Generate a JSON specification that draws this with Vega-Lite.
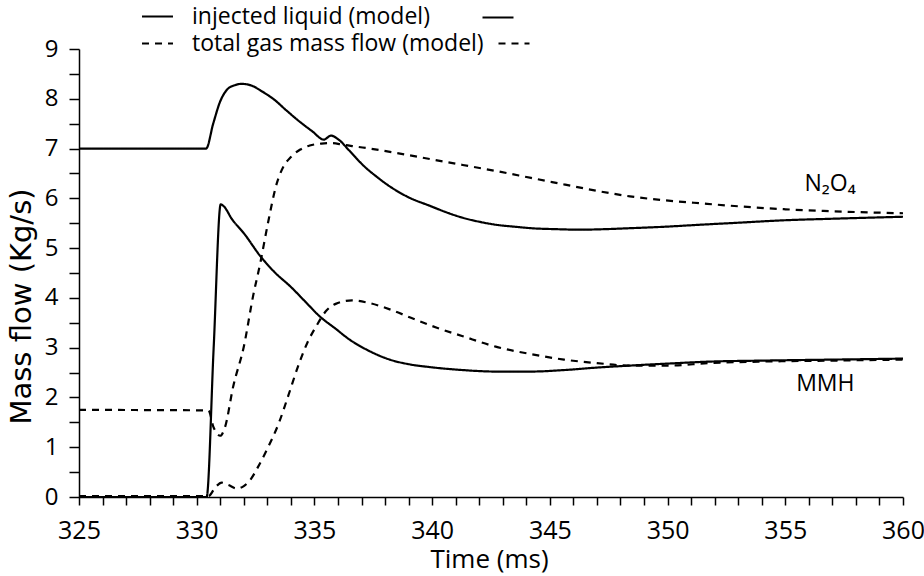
{
  "$schema": "https://vega.github.io/schema/vega-lite/v6.json",
  "width": 824,
  "height": 448,
  "autosize": "none",
  "padding": {"left": 79, "top": 49, "right": 21, "bottom": 79},
  "background": "white",
  "config": {
    "view": {"stroke": null},
    "font": "Open Sans",
    "axis": {
      "domainColor": "black", "domainWidth": 1.5, "ticks": true, "tickColor": "black", "tickWidth": 1.5,
      "tickOpacity": 1, "labelColor": "black", "titleColor": "black", "grid": false, "labelOverlap": false,
      "labelFont": "Open Sans", "titleFont": "Open Sans", "titleFontWeight": "normal"
    },
    "legend": {
      "labelFont": "Open Sans", "labelFontSize": 23, "labelColor": "black", "labelLimit": 0
    }
  },
  "datasets": {
    "curves": [
      {"t": 325, "v": 7.0, "s": "N2O4 liquid", "k": "injected liquid (model)"},
      {"t": 330.4, "v": 7.0, "s": "N2O4 liquid", "k": "injected liquid (model)"},
      {"t": 330.7, "v": 7.5, "s": "N2O4 liquid", "k": "injected liquid (model)"},
      {"t": 331.0, "v": 7.95, "s": "N2O4 liquid", "k": "injected liquid (model)"},
      {"t": 331.3, "v": 8.19, "s": "N2O4 liquid", "k": "injected liquid (model)"},
      {"t": 331.6, "v": 8.27, "s": "N2O4 liquid", "k": "injected liquid (model)"},
      {"t": 331.9, "v": 8.3, "s": "N2O4 liquid", "k": "injected liquid (model)"},
      {"t": 332.3, "v": 8.27, "s": "N2O4 liquid", "k": "injected liquid (model)"},
      {"t": 332.8, "v": 8.14, "s": "N2O4 liquid", "k": "injected liquid (model)"},
      {"t": 333.3, "v": 7.98, "s": "N2O4 liquid", "k": "injected liquid (model)"},
      {"t": 333.8, "v": 7.77, "s": "N2O4 liquid", "k": "injected liquid (model)"},
      {"t": 334.4, "v": 7.53, "s": "N2O4 liquid", "k": "injected liquid (model)"},
      {"t": 334.9, "v": 7.35, "s": "N2O4 liquid", "k": "injected liquid (model)"},
      {"t": 335.4, "v": 7.18, "s": "N2O4 liquid", "k": "injected liquid (model)"},
      {"t": 335.7, "v": 7.26, "s": "N2O4 liquid", "k": "injected liquid (model)"},
      {"t": 336.0, "v": 7.19, "s": "N2O4 liquid", "k": "injected liquid (model)"},
      {"t": 336.5, "v": 6.95, "s": "N2O4 liquid", "k": "injected liquid (model)"},
      {"t": 337.1, "v": 6.65, "s": "N2O4 liquid", "k": "injected liquid (model)"},
      {"t": 337.6, "v": 6.45, "s": "N2O4 liquid", "k": "injected liquid (model)"},
      {"t": 338.2, "v": 6.24, "s": "N2O4 liquid", "k": "injected liquid (model)"},
      {"t": 339.0, "v": 6.02, "s": "N2O4 liquid", "k": "injected liquid (model)"},
      {"t": 339.9, "v": 5.85, "s": "N2O4 liquid", "k": "injected liquid (model)"},
      {"t": 340.6, "v": 5.72, "s": "N2O4 liquid", "k": "injected liquid (model)"},
      {"t": 341.3, "v": 5.61, "s": "N2O4 liquid", "k": "injected liquid (model)"},
      {"t": 342.0, "v": 5.53, "s": "N2O4 liquid", "k": "injected liquid (model)"},
      {"t": 342.7, "v": 5.47, "s": "N2O4 liquid", "k": "injected liquid (model)"},
      {"t": 343.5, "v": 5.43, "s": "N2O4 liquid", "k": "injected liquid (model)"},
      {"t": 344.2, "v": 5.4, "s": "N2O4 liquid", "k": "injected liquid (model)"},
      {"t": 345.3, "v": 5.38, "s": "N2O4 liquid", "k": "injected liquid (model)"},
      {"t": 346.3, "v": 5.37, "s": "N2O4 liquid", "k": "injected liquid (model)"},
      {"t": 347.3, "v": 5.38, "s": "N2O4 liquid", "k": "injected liquid (model)"},
      {"t": 348.4, "v": 5.4, "s": "N2O4 liquid", "k": "injected liquid (model)"},
      {"t": 349.9, "v": 5.43, "s": "N2O4 liquid", "k": "injected liquid (model)"},
      {"t": 351.4, "v": 5.47, "s": "N2O4 liquid", "k": "injected liquid (model)"},
      {"t": 353.0, "v": 5.51, "s": "N2O4 liquid", "k": "injected liquid (model)"},
      {"t": 355.0, "v": 5.56, "s": "N2O4 liquid", "k": "injected liquid (model)"},
      {"t": 357.0, "v": 5.59, "s": "N2O4 liquid", "k": "injected liquid (model)"},
      {"t": 360.0, "v": 5.63, "s": "N2O4 liquid", "k": "injected liquid (model)"},

      {"t": 325, "v": 1.75, "s": "N2O4 gas", "k": "total gas mass flow (model)"},
      {"t": 330.5, "v": 1.74, "s": "N2O4 gas", "k": "total gas mass flow (model)"},
      {"t": 330.7, "v": 1.42, "s": "N2O4 gas", "k": "total gas mass flow (model)"},
      {"t": 331.0, "v": 1.23, "s": "N2O4 gas", "k": "total gas mass flow (model)"},
      {"t": 331.2, "v": 1.4, "s": "N2O4 gas", "k": "total gas mass flow (model)"},
      {"t": 331.55, "v": 2.22, "s": "N2O4 gas", "k": "total gas mass flow (model)"},
      {"t": 332.0, "v": 3.02, "s": "N2O4 gas", "k": "total gas mass flow (model)"},
      {"t": 332.4, "v": 4.05, "s": "N2O4 gas", "k": "total gas mass flow (model)"},
      {"t": 332.7, "v": 4.7, "s": "N2O4 gas", "k": "total gas mass flow (model)"},
      {"t": 333.0, "v": 5.44, "s": "N2O4 gas", "k": "total gas mass flow (model)"},
      {"t": 333.4, "v": 6.3, "s": "N2O4 gas", "k": "total gas mass flow (model)"},
      {"t": 333.7, "v": 6.65, "s": "N2O4 gas", "k": "total gas mass flow (model)"},
      {"t": 334.0, "v": 6.83, "s": "N2O4 gas", "k": "total gas mass flow (model)"},
      {"t": 334.4, "v": 6.98, "s": "N2O4 gas", "k": "total gas mass flow (model)"},
      {"t": 334.8, "v": 7.06, "s": "N2O4 gas", "k": "total gas mass flow (model)"},
      {"t": 335.3, "v": 7.1, "s": "N2O4 gas", "k": "total gas mass flow (model)"},
      {"t": 335.7, "v": 7.11, "s": "N2O4 gas", "k": "total gas mass flow (model)"},
      {"t": 336.2, "v": 7.08, "s": "N2O4 gas", "k": "total gas mass flow (model)"},
      {"t": 336.6, "v": 7.05, "s": "N2O4 gas", "k": "total gas mass flow (model)"},
      {"t": 337.5, "v": 6.99, "s": "N2O4 gas", "k": "total gas mass flow (model)"},
      {"t": 338.5, "v": 6.91, "s": "N2O4 gas", "k": "total gas mass flow (model)"},
      {"t": 339.9, "v": 6.79, "s": "N2O4 gas", "k": "total gas mass flow (model)"},
      {"t": 341.3, "v": 6.67, "s": "N2O4 gas", "k": "total gas mass flow (model)"},
      {"t": 342.7, "v": 6.55, "s": "N2O4 gas", "k": "total gas mass flow (model)"},
      {"t": 344.2, "v": 6.41, "s": "N2O4 gas", "k": "total gas mass flow (model)"},
      {"t": 345.6, "v": 6.28, "s": "N2O4 gas", "k": "total gas mass flow (model)"},
      {"t": 347.0, "v": 6.15, "s": "N2O4 gas", "k": "total gas mass flow (model)"},
      {"t": 348.4, "v": 6.04, "s": "N2O4 gas", "k": "total gas mass flow (model)"},
      {"t": 349.9, "v": 5.96, "s": "N2O4 gas", "k": "total gas mass flow (model)"},
      {"t": 351.4, "v": 5.9, "s": "N2O4 gas", "k": "total gas mass flow (model)"},
      {"t": 353.0, "v": 5.84, "s": "N2O4 gas", "k": "total gas mass flow (model)"},
      {"t": 355.0, "v": 5.78, "s": "N2O4 gas", "k": "total gas mass flow (model)"},
      {"t": 357.0, "v": 5.74, "s": "N2O4 gas", "k": "total gas mass flow (model)"},
      {"t": 360.0, "v": 5.7, "s": "N2O4 gas", "k": "total gas mass flow (model)"},

      {"t": 325, "v": 0.0, "s": "MMH liquid", "k": "injected liquid (model)"},
      {"t": 330.42, "v": 0.0, "s": "MMH liquid", "k": "injected liquid (model)"},
      {"t": 330.72, "v": 3.0, "s": "MMH liquid", "k": "injected liquid (model)"},
      {"t": 331.02, "v": 5.88, "s": "MMH liquid", "k": "injected liquid (model)"},
      {"t": 331.15, "v": 5.84, "s": "MMH liquid", "k": "injected liquid (model)"},
      {"t": 331.5, "v": 5.58, "s": "MMH liquid", "k": "injected liquid (model)"},
      {"t": 332.0, "v": 5.3, "s": "MMH liquid", "k": "injected liquid (model)"},
      {"t": 332.7, "v": 4.84, "s": "MMH liquid", "k": "injected liquid (model)"},
      {"t": 333.3, "v": 4.52, "s": "MMH liquid", "k": "injected liquid (model)"},
      {"t": 334.0, "v": 4.22, "s": "MMH liquid", "k": "injected liquid (model)"},
      {"t": 334.6, "v": 3.93, "s": "MMH liquid", "k": "injected liquid (model)"},
      {"t": 335.2, "v": 3.64, "s": "MMH liquid", "k": "injected liquid (model)"},
      {"t": 335.9, "v": 3.38, "s": "MMH liquid", "k": "injected liquid (model)"},
      {"t": 336.5, "v": 3.16, "s": "MMH liquid", "k": "injected liquid (model)"},
      {"t": 337.3, "v": 2.94, "s": "MMH liquid", "k": "injected liquid (model)"},
      {"t": 338.2, "v": 2.76, "s": "MMH liquid", "k": "injected liquid (model)"},
      {"t": 339.1, "v": 2.66, "s": "MMH liquid", "k": "injected liquid (model)"},
      {"t": 339.9, "v": 2.61, "s": "MMH liquid", "k": "injected liquid (model)"},
      {"t": 341.3, "v": 2.55, "s": "MMH liquid", "k": "injected liquid (model)"},
      {"t": 342.7, "v": 2.52, "s": "MMH liquid", "k": "injected liquid (model)"},
      {"t": 344.2, "v": 2.52, "s": "MMH liquid", "k": "injected liquid (model)"},
      {"t": 345.6, "v": 2.55, "s": "MMH liquid", "k": "injected liquid (model)"},
      {"t": 347.0, "v": 2.6, "s": "MMH liquid", "k": "injected liquid (model)"},
      {"t": 348.4, "v": 2.64, "s": "MMH liquid", "k": "injected liquid (model)"},
      {"t": 350.0, "v": 2.68, "s": "MMH liquid", "k": "injected liquid (model)"},
      {"t": 351.8, "v": 2.72, "s": "MMH liquid", "k": "injected liquid (model)"},
      {"t": 354.0, "v": 2.74, "s": "MMH liquid", "k": "injected liquid (model)"},
      {"t": 357.0, "v": 2.76, "s": "MMH liquid", "k": "injected liquid (model)"},
      {"t": 360.0, "v": 2.78, "s": "MMH liquid", "k": "injected liquid (model)"},

      {"t": 325, "v": 0.02, "s": "MMH gas", "k": "total gas mass flow (model)"},
      {"t": 330.5, "v": 0.02, "s": "MMH gas", "k": "total gas mass flow (model)"},
      {"t": 330.8, "v": 0.2, "s": "MMH gas", "k": "total gas mass flow (model)"},
      {"t": 331.06, "v": 0.29, "s": "MMH gas", "k": "total gas mass flow (model)"},
      {"t": 331.35, "v": 0.24, "s": "MMH gas", "k": "total gas mass flow (model)"},
      {"t": 331.7, "v": 0.17, "s": "MMH gas", "k": "total gas mass flow (model)"},
      {"t": 332.0, "v": 0.22, "s": "MMH gas", "k": "total gas mass flow (model)"},
      {"t": 332.3, "v": 0.36, "s": "MMH gas", "k": "total gas mass flow (model)"},
      {"t": 332.6, "v": 0.6, "s": "MMH gas", "k": "total gas mass flow (model)"},
      {"t": 333.0, "v": 0.97, "s": "MMH gas", "k": "total gas mass flow (model)"},
      {"t": 333.5, "v": 1.5, "s": "MMH gas", "k": "total gas mass flow (model)"},
      {"t": 333.9, "v": 2.05, "s": "MMH gas", "k": "total gas mass flow (model)"},
      {"t": 334.3, "v": 2.62, "s": "MMH gas", "k": "total gas mass flow (model)"},
      {"t": 334.7, "v": 3.1, "s": "MMH gas", "k": "total gas mass flow (model)"},
      {"t": 335.1, "v": 3.45, "s": "MMH gas", "k": "total gas mass flow (model)"},
      {"t": 335.5, "v": 3.74, "s": "MMH gas", "k": "total gas mass flow (model)"},
      {"t": 335.9, "v": 3.88, "s": "MMH gas", "k": "total gas mass flow (model)"},
      {"t": 336.6, "v": 3.95, "s": "MMH gas", "k": "total gas mass flow (model)"},
      {"t": 337.3, "v": 3.9, "s": "MMH gas", "k": "total gas mass flow (model)"},
      {"t": 338.2, "v": 3.77, "s": "MMH gas", "k": "total gas mass flow (model)"},
      {"t": 339.1, "v": 3.6, "s": "MMH gas", "k": "total gas mass flow (model)"},
      {"t": 340.2, "v": 3.4, "s": "MMH gas", "k": "total gas mass flow (model)"},
      {"t": 341.3, "v": 3.23, "s": "MMH gas", "k": "total gas mass flow (model)"},
      {"t": 342.7, "v": 3.02, "s": "MMH gas", "k": "total gas mass flow (model)"},
      {"t": 344.2, "v": 2.87, "s": "MMH gas", "k": "total gas mass flow (model)"},
      {"t": 345.6, "v": 2.76, "s": "MMH gas", "k": "total gas mass flow (model)"},
      {"t": 347.0, "v": 2.69, "s": "MMH gas", "k": "total gas mass flow (model)"},
      {"t": 348.4, "v": 2.64, "s": "MMH gas", "k": "total gas mass flow (model)"},
      {"t": 350.0, "v": 2.64, "s": "MMH gas", "k": "total gas mass flow (model)"},
      {"t": 351.8, "v": 2.69, "s": "MMH gas", "k": "total gas mass flow (model)"},
      {"t": 354.0, "v": 2.72, "s": "MMH gas", "k": "total gas mass flow (model)"},
      {"t": 357.0, "v": 2.74, "s": "MMH gas", "k": "total gas mass flow (model)"},
      {"t": 360.0, "v": 2.76, "s": "MMH gas", "k": "total gas mass flow (model)"}
    ],
    "labels": [
      {"t": 356.9, "v": 6.28, "label": "N₂O₄"},
      {"t": 356.7, "v": 2.27, "label": "MMH"}
    ]
  },
  "resolve": {"scale": {"strokeDash": "independent"}, "legend": {"strokeDash": "independent"}},
  "layer": [
    {
      "data": {"name": "curves"},
      "mark": {"type": "line", "color": "black", "strokeWidth": 2.2, "interpolate": "monotone"},
      "encoding": {
        "x": {
          "field": "t", "type": "quantitative",
          "scale": {"domain": [325, 360], "nice": false, "zero": false},
          "axis": {
            "title": "Time (ms)",
            "tickCount": 35,
            "labelExpr": "datum.value % 5 === 0 ? datum.label : ''",
            "labelOverlap": false, "labelSeparation": 0, "ticks": true, "tickColor": "black", "tickWidth": 1.5,
            "tickSize": 8, "labelPadding": 13, "labelFontSize": 25, "labelFlush": false, "labelBound": false,
            "titleFontSize": 26, "titleX": 410, "titleY": 62, "titleBaseline": "middle", "titleAlign": "center"
          }
        },
        "y": {
          "field": "v", "type": "quantitative",
          "scale": {"domain": [0, 9], "nice": false},
          "axis": {
            "title": "Mass flow (Kg/s)",
            "tickCount": 18,
            "labelExpr": "datum.value % 1 === 0 ? format(datum.value, 'd') : ''",
            "labelOverlap": false, "ticks": true, "tickColor": "black", "tickWidth": 1.5,
            "tickSize": 10, "labelPadding": 11, "labelFontSize": 24, "labelFlush": false,
            "titleFont": "DejaVu Sans", "titleFontWeight": "normal", "titleFontSize": 29, "titleX": -58, "titleY": 257,
            "titleBaseline": "middle", "titleAlign": "center", "titleAngle": -90
          }
        },
        "detail": {"field": "s"},
        "strokeDash": {
          "field": "k", "type": "nominal",
          "scale": {"domain": ["injected liquid (model)", "total gas mass flow (model)"], "range": [[1, 0], [7, 6]]},
          "legend": {
            "title": null, "orient": "none", "legendX": 67, "legendY": -44,
            "symbolType": "M-2,0H2", "symbolSize": 240, "symbolStrokeWidth": 2.2,
            "symbolStrokeColor": "black", "symbolFillColor": "transparent",
            "rowPadding": 3, "labelOffset": 23, "padding": 0
          }
        }
      }
    },
    {
      "data": {"name": "curves"},
      "transform": [{"filter": "datum.t < 0"}],
      "mark": {"type": "line", "color": "black", "strokeWidth": 2.2},
      "encoding": {
        "x": {"field": "t", "type": "quantitative"},
        "y": {"field": "v", "type": "quantitative"},
        "detail": {"field": "s"},
        "strokeDash": {
          "field": "k", "type": "nominal",
          "scale": {"domain": ["injected liquid (model)"], "range": [[1, 0]]},
          "legend": {
            "title": null, "orient": "none", "legendX": 402, "legendY": -48.5,
            "symbolType": "stroke", "symbolSize": 961, "symbolStrokeWidth": 2.2,
            "symbolStrokeColor": "black", "labelOffset": 0, "padding": 0,
            "labelExpr": "''"
          }
        }
      }
    },
    {
      "data": {"name": "curves"},
      "transform": [{"filter": "datum.t < 0"}],
      "mark": {"type": "line", "color": "black", "strokeWidth": 2.2},
      "encoding": {
        "x": {"field": "t", "type": "quantitative"},
        "y": {"field": "v", "type": "quantitative"},
        "detail": {"field": "s"},
        "strokeDash": {
          "field": "k", "type": "nominal",
          "scale": {"domain": ["total gas mass flow (model)"], "range": [[7, 6]]},
          "legend": {
            "title": null, "orient": "none", "legendX": 418, "legendY": -22.5,
            "symbolType": "stroke", "symbolSize": 961, "symbolStrokeWidth": 2.2,
            "symbolStrokeColor": "black", "labelOffset": 0, "padding": 0,
            "labelExpr": "''"
          }
        }
      }
    },
    {
      "data": {"name": "labels"},
      "mark": {"type": "text", "font": "Open Sans", "fontSize": 23, "color": "black"},
      "encoding": {
        "x": {"field": "t", "type": "quantitative"},
        "y": {"field": "v", "type": "quantitative"},
        "text": {"field": "label"}
      }
    }
  ]
}
